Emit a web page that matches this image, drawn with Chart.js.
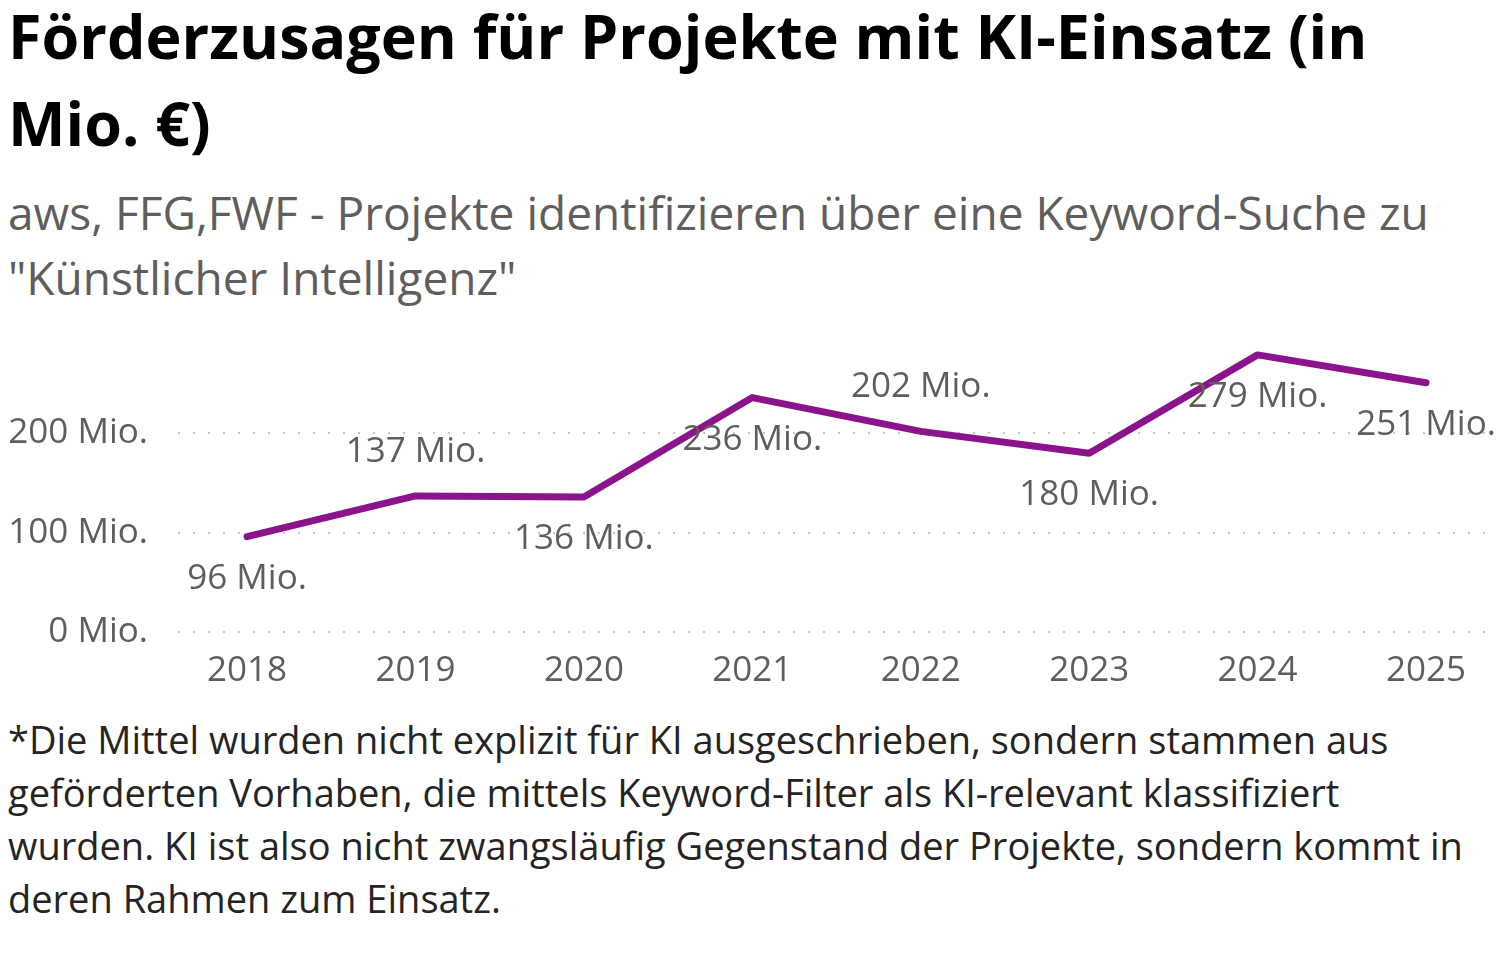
<!DOCTYPE html>
<html>
<head>
<meta charset="utf-8">
<script src="https://cdn.jsdelivr.net/npm/chart.js@4.4.1/dist/chart.umd.min.js"></script>
<style>
  html, body { margin: 0; padding: 0; background: #fff; }
  body { width: 1508px; height: 980px; position: relative; overflow: hidden; font-family: "Open Sans", sans-serif; }
  .txt { position: absolute; left: 8px; white-space: nowrap; }
  #title { top: -8px; font-size: 61px; line-height: 87px; font-weight: 700; color: #000; }
  #subtitle { top: 180px; font-size: 46px; line-height: 65px; color: #605E5C; }
  #note { top: 713px; font-size: 38px; line-height: 53px; color: #252423; }
  #chartBox { position: absolute; left: 0; top: 288px; }
</style>
</head>
<body>
<div class="txt" id="title">Förderzusagen für Projekte mit KI-Einsatz (in<br>Mio. €)</div>
<div class="txt" id="subtitle">aws, FFG,FWF - Projekte identifizieren über eine Keyword-Suche zu<br>"Künstlicher Intelligenz"</div>
<div id="chartBox"><canvas id="chart" width="1508" height="422"></canvas></div>
<div class="txt" id="note">*Die Mittel wurden nicht explizit für KI ausgeschrieben, sondern stammen aus<br>geförderten Vorhaben, die mittels Keyword-Filter als KI-relevant klassifiziert<br>wurden. KI ist also nicht zwangsläufig Gegenstand der Projekte, sondern kommt in<br>deren Rahmen zum Einsatz.</div>
<script>
// Förderzusagen in Mio. €
var years = ["2018", "2019", "2020", "2021", "2022", "2023", "2024", "2025"];
var funding = [96, 137, 136, 236, 202, 180, 279, 251];
var yTicks = [0, 100, 200];
var labelSide = ["below", "above", "below", "below", "above", "below", "below", "below"];

var grey = "#605E5C";
var font = "'Open Sans', sans-serif";

// data labels over / under each point
var valueLabels = {
  id: "valueLabels",
  afterDatasetsDraw: function (chart) {
    var ctx = chart.ctx;
    var meta = chart.getDatasetMeta(0);
    ctx.save();
    ctx.font = "35px " + font;
    ctx.fillStyle = grey;
    ctx.textAlign = "center";
    ctx.textBaseline = "middle";
    meta.data.forEach(function (pt, i) {
      var dy = labelSide[i] === "above" ? -44 : 42;
      ctx.fillText(funding[i] + " Mio.", pt.x, pt.y + dy);
    });
    ctx.restore();
  }
};

new Chart(document.getElementById("chart"), {
  type: "line",
  data: {
    datasets: [{
      data: funding.map(function (v, i) { return { x: i, y: v }; }),
      borderColor: "#8B148D",
      borderWidth: 7,
      borderCapStyle: "round",
      borderJoinStyle: "round",
      pointRadius: 0,
      tension: 0
    }]
  },
  options: {
    responsive: false,
    animation: false,
    layout: { padding: { top: 0, right: 21, left: 0, bottom: 0 } },
    plugins: { legend: { display: false }, tooltip: { enabled: false } },
    scales: {
      x: {
        type: "linear",
        min: -0.41,
        max: 7.362,
        grid: { display: false },
        border: { display: false },
        afterFit: function (s) { s.height = 78; },
        ticks: {
          stepSize: 1,
          includeBounds: false,
          autoSkip: false,
          maxRotation: 0,
          padding: 10,
          color: grey,
          font: { family: font, size: 35 },
          callback: function (v) { return years[v] !== undefined ? years[v] : ""; }
        }
      },
      y: {
        min: 0,
        max: 295,
        afterBuildTicks: function (s) { s.ticks = yTicks.map(function (v) { return { value: v }; }); },
        afterFit: function (s) { s.width = 178; },
        grid: { color: "#C8C6C4", lineWidth: 2, drawTicks: false },
        border: { display: false, dash: [2, 13] },
        ticks: {
          padding: 30,
          color: grey,
          font: { family: font, size: 35 },
          callback: function (v) { return v + " Mio."; }
        }
      }
    }
  },
  plugins: [valueLabels]
});
</script>
</body>
</html>
